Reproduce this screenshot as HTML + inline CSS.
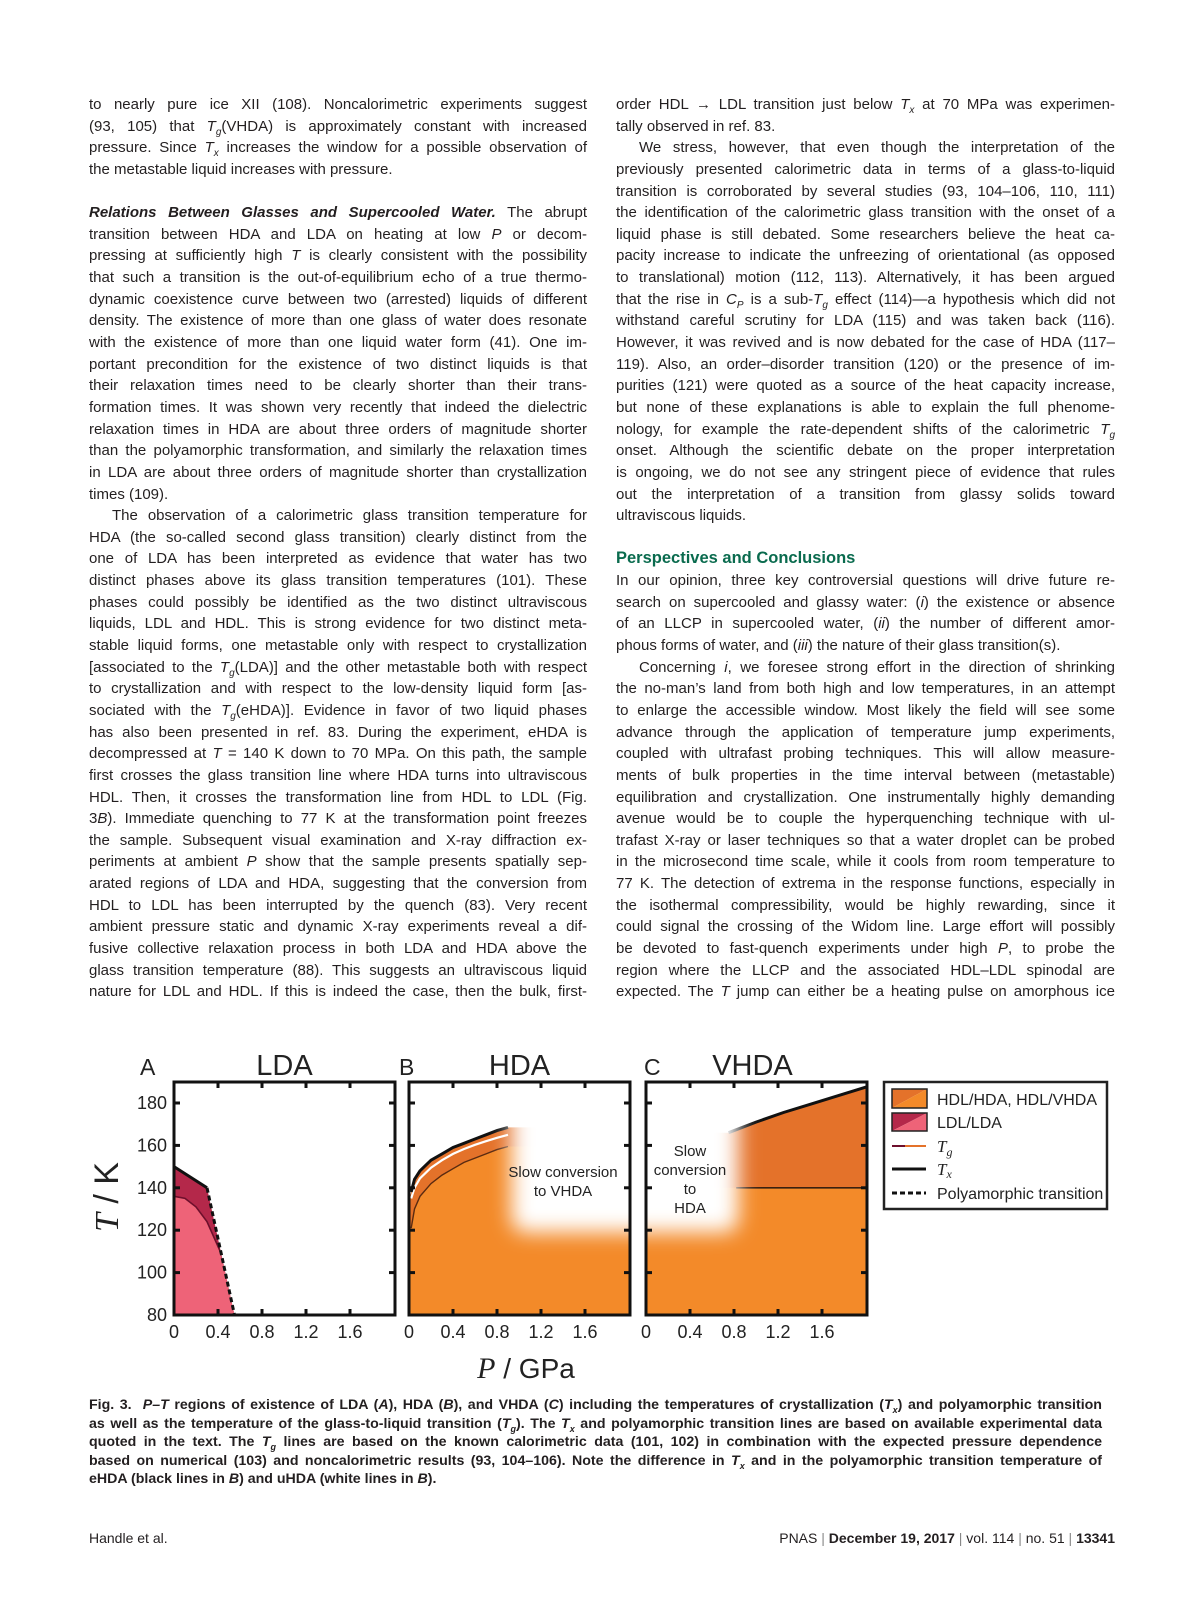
<!DOCTYPE html>
<html><head><meta charset="utf-8">
<style>
html,body{margin:0;padding:0;background:#fff;}
body{width:1200px;height:1606px;position:relative;overflow:hidden;font-family:"Liberation Sans",sans-serif;color:#231f20;}
.col{position:absolute;top:94px;font-size:15px;line-height:21.65px;}
.col div{height:21.65px;white-space:nowrap;text-align:justify;text-align-last:justify;}
.col div.l{text-align-last:left;}
.col div.in{padding-left:23px;}
.col div.b{height:21.65px;}
#left{left:89px;width:498px;}
#right{left:616px;width:499px;}
.green{color:#0a6b4e;font-weight:bold;font-size:16.5px;}
.cap{position:absolute;left:89px;width:1013px;font-family:"Liberation Sans Narrow","Liberation Sans",sans-serif;font-weight:bold;font-size:14.2px;line-height:18.6px;}
.cap div{white-space:nowrap;text-align:justify;text-align-last:justify;height:18.6px;}
.foot{position:absolute;top:1530px;font-family:"Liberation Sans Narrow","Liberation Sans",sans-serif;font-size:14px;}
</style></head>
<body>
<div id="left" class="col">
<div>to nearly pure ice XII (108). Noncalorimetric experiments suggest</div>
<div>(93, 105) that <i>T<sub style="font-size:10px">g</sub></i>(VHDA) is approximately constant with increased</div>
<div>pressure. Since <i>T<sub style="font-size:10px">x</sub></i> increases the window for a possible observation of</div>
<div class="l">the metastable liquid increases with pressure.</div>
<div class="b"></div>
<div><b><i>Relations Between Glasses and Supercooled Water.</i></b> The abrupt</div>
<div>transition between HDA and LDA on heating at low <i>P</i> or decom-</div>
<div>pressing at sufficiently high <i>T</i> is clearly consistent with the possibility</div>
<div>that such a transition is the out-of-equilibrium echo of a true thermo-</div>
<div>dynamic coexistence curve between two (arrested) liquids of different</div>
<div>density. The existence of more than one glass of water does resonate</div>
<div>with the existence of more than one liquid water form (41). One im-</div>
<div>portant precondition for the existence of two distinct liquids is that</div>
<div>their relaxation times need to be clearly shorter than their trans-</div>
<div>formation times. It was shown very recently that indeed the dielectric</div>
<div>relaxation times in HDA are about three orders of magnitude shorter</div>
<div>than the polyamorphic transformation, and similarly the relaxation times</div>
<div>in LDA are about three orders of magnitude shorter than crystallization</div>
<div class="l">times (109).</div>
<div class="in">The observation of a calorimetric glass transition temperature for</div>
<div>HDA (the so-called second glass transition) clearly distinct from the</div>
<div>one of LDA has been interpreted as evidence that water has two</div>
<div>distinct phases above its glass transition temperatures (101). These</div>
<div>phases could possibly be identified as the two distinct ultraviscous</div>
<div>liquids, LDL and HDL. This is strong evidence for two distinct meta-</div>
<div>stable liquid forms, one metastable only with respect to crystallization</div>
<div>[associated to the <i>T<sub style="font-size:10px">g</sub></i>(LDA)] and the other metastable both with respect</div>
<div>to crystallization and with respect to the low-density liquid form [as-</div>
<div>sociated with the <i>T<sub style="font-size:10px">g</sub></i>(eHDA)]. Evidence in favor of two liquid phases</div>
<div>has also been presented in ref. 83. During the experiment, eHDA is</div>
<div>decompressed at <i>T</i> = 140 K down to 70 MPa. On this path, the sample</div>
<div>first crosses the glass transition line where HDA turns into ultraviscous</div>
<div>HDL. Then, it crosses the transformation line from HDL to LDL (Fig.</div>
<div>3<i>B</i>). Immediate quenching to 77 K at the transformation point freezes</div>
<div>the sample. Subsequent visual examination and X-ray diffraction ex-</div>
<div>periments at ambient <i>P</i> show that the sample presents spatially sep-</div>
<div>arated regions of LDA and HDA, suggesting that the conversion from</div>
<div>HDL to LDL has been interrupted by the quench (83). Very recent</div>
<div>ambient pressure static and dynamic X-ray experiments reveal a dif-</div>
<div>fusive collective relaxation process in both LDA and HDA above the</div>
<div>glass transition temperature (88). This suggests an ultraviscous liquid</div>
<div>nature for LDL and HDL. If this is indeed the case, then the bulk, first-</div>
</div>

<div id="right" class="col">
<div>order HDL → LDL transition just below <i>T<sub style="font-size:10px">x</sub></i> at 70 MPa was experimen-</div>
<div class="l">tally observed in ref. 83.</div>
<div class="in">We stress, however, that even though the interpretation of the</div>
<div>previously presented calorimetric data in terms of a glass-to-liquid</div>
<div>transition is corroborated by several studies (93, 104–106, 110, 111)</div>
<div>the identification of the calorimetric glass transition with the onset of a</div>
<div>liquid phase is still debated. Some researchers believe the heat ca-</div>
<div>pacity increase to indicate the unfreezing of orientational (as opposed</div>
<div>to translational) motion (112, 113). Alternatively, it has been argued</div>
<div>that the rise in <i>C<sub style="font-size:10px">P</sub></i> is a sub-<i>T<sub style="font-size:10px">g</sub></i> effect (114)—a hypothesis which did not</div>
<div>withstand careful scrutiny for LDA (115) and was taken back (116).</div>
<div>However, it was revived and is now debated for the case of HDA (117–</div>
<div>119). Also, an order–disorder transition (120) or the presence of im-</div>
<div>purities (121) were quoted as a source of the heat capacity increase,</div>
<div>but none of these explanations is able to explain the full phenome-</div>
<div>nology, for example the rate-dependent shifts of the calorimetric <i>T<sub style="font-size:10px">g</sub></i></div>
<div>onset. Although the scientific debate on the proper interpretation</div>
<div>is ongoing, we do not see any stringent piece of evidence that rules</div>
<div>out the interpretation of a transition from glassy solids toward</div>
<div class="l">ultraviscous liquids.</div>
<div class="b"></div>
<div class="l green">Perspectives and Conclusions</div>
<div>In our opinion, three key controversial questions will drive future re-</div>
<div>search on supercooled and glassy water: (<i>i</i>) the existence or absence</div>
<div>of an LLCP in supercooled water, (<i>ii</i>) the number of different amor-</div>
<div class="l">phous forms of water, and (<i>iii</i>) the nature of their glass transition(s).</div>
<div class="in">Concerning <i>i</i>, we foresee strong effort in the direction of shrinking</div>
<div>the no-man’s land from both high and low temperatures, in an attempt</div>
<div>to enlarge the accessible window. Most likely the field will see some</div>
<div>advance through the application of temperature jump experiments,</div>
<div>coupled with ultrafast probing techniques. This will allow measure-</div>
<div>ments of bulk properties in the time interval between (metastable)</div>
<div>equilibration and crystallization. One instrumentally highly demanding</div>
<div>avenue would be to couple the hyperquenching technique with ul-</div>
<div>trafast X-ray or laser techniques so that a water droplet can be probed</div>
<div>in the microsecond time scale, while it cools from room temperature to</div>
<div>77 K. The detection of extrema in the response functions, especially in</div>
<div>the isothermal compressibility, would be highly rewarding, since it</div>
<div>could signal the crossing of the Widom line. Large effort will possibly</div>
<div>be devoted to fast-quench experiments under high <i>P</i>, to probe the</div>
<div>region where the LLCP and the associated HDL–LDL spinodal are</div>
<div>expected. The <i>T</i> jump can either be a heating pulse on amorphous ice</div>
</div>

<svg id="fig" width="1200" height="1606" style="position:absolute;left:0;top:0" xmlns="http://www.w3.org/2000/svg">
<defs>
<filter id="blur" x="-50%" y="-50%" width="200%" height="200%"><feGaussianBlur stdDeviation="10"/></filter>
</defs>
</svg>

<div class="cap" style="top:1396px">
<div>Fig. 3.&nbsp; <i>P–T</i> regions of existence of LDA (<i>A</i>), HDA (<i>B</i>), and VHDA (<i>C</i>) including the temperatures of crystallization (<i>T<sub style="font-size:9px">x</sub></i>) and polyamorphic transition</div>
<div>as well as the temperature of the glass-to-liquid transition (<i>T<sub style="font-size:9px">g</sub></i>). The <i>T<sub style="font-size:9px">x</sub></i> and polyamorphic transition lines are based on available experimental data</div>
<div>quoted in the text. The <i>T<sub style="font-size:9px">g</sub></i> lines are based on the known calorimetric data (101, 102) in combination with the expected pressure dependence</div>
<div>based on numerical (103) and noncalorimetric results (93, 104–106). Note the difference in <i>T<sub style="font-size:9px">x</sub></i> and in the polyamorphic transition temperature of</div>
<div style="text-align-last:left">eHDA (black lines in <i>B</i>) and uHDA (white lines in <i>B</i>).</div>
</div>
<div class="foot" style="left:89px">Handle et al.</div>
<div class="foot" style="right:85px">PNAS <span style="color:#888">|</span> <b>December 19, 2017</b> <span style="color:#888">|</span> vol. 114 <span style="color:#888">|</span> no. 51 <span style="color:#888">|</span> <b>13341</b></div>

<script>
const xTicks=[0,0.4,0.8,1.2,1.6];
const yTicks=[80,100,120,140,160,180];
const panelTitles=["LDA","HDA","VHDA"];
const panelLetters=["A","B","C"];
// Panel A (LDA)
const ldaTxP=[0,0.3];
const ldaTxT=[150,140];
const ldaPolyP=[0.3,0.55];
const ldaPolyT=[140,80];
const ldaTgP=[0,0.1,0.2,0.3,0.42];
const ldaTgT=[136,135,131,124,110];
// Panel B (HDA)
const hdaP=[0.02,0.05,0.1,0.2,0.3,0.4,0.5,0.6,0.7,0.8,0.9];
const hdaTxT=[138,144,148,153,156,159,161,163,165,167,168.5];
const hdaTgT=[121,130,136,142,146,149,152,154,156,158,159.5];
const uhdaTxT=[135,140,144.5,149.5,153,156,158.3,160.3,162,163.6,165];
// Panel C (VHDA)
const vhdaTxP=[0.75,1.0,1.25,1.5,1.75,2.0];
const vhdaTxT=[166,171,175.5,179.5,183.5,187.5];
const vhdaTgP=[0.82,2.0];
const vhdaTgT=[140,140];

const NS="http://www.w3.org/2000/svg";
const svg=document.getElementById('fig');
const boxX=[174,409,646], boxW=221, yTop=1082, yBot=1315;
function mk(tag,attrs,parent){const e=document.createElementNS(NS,tag);for(const k in attrs)e.setAttribute(k,attrs[k]);(parent||svg).appendChild(e);return e;}
function sx(i,p){return boxX[i]+p*110;}
function sy(t){return yBot-(t-80)*2.12;}
function pts(i,P,T){return P.map((p,j)=>sx(i,p).toFixed(1)+','+sy(T[j]).toFixed(1));}
function txt(x,y,s,attrs,name){const e=mk('text',Object.assign({x:x,y:y},attrs));e.textContent=s;


return e;}
const LO='#f38a29', DO='#e4722a', PK='#ee6378', DPK='#b4284a';

for(let i=0;i<3;i++){
  const cp=mk('clipPath',{id:'clip'+i},svg.querySelector('defs'));
  mk('rect',{x:boxX[i],y:yTop,width:boxW,height:yBot-yTop},cp);
}
// Panel A
const gA=mk('g',{'clip-path':'url(#clip0)'});


const dark=mk('polygon',{points:[sx(0,0)+','+sy(80)].concat(pts(0,ldaTxP,ldaTxT),pts(0,ldaPolyP,ldaPolyT)).join(' '),fill:DPK},gA);


const lightA=mk('polygon',{points:[sx(0,0)+','+sy(80)].concat(pts(0,ldaTgP,ldaTgT),[sx(0,ldaPolyP[1])+','+sy(ldaPolyT[1])]).join(' '),fill:PK},gA);


const tgA=mk('polyline',{points:pts(0,ldaTgP,ldaTgT).join(' '),fill:'none',stroke:'#6e0f2c','stroke-width':1.6},gA);


const txA=mk('polyline',{points:pts(0,ldaTxP,ldaTxT).join(' '),fill:'none',stroke:'#111','stroke-width':3},gA);


const polyA=mk('polyline',{points:pts(0,ldaPolyP,ldaPolyT).join(' '),fill:'none',stroke:'#111','stroke-width':3,'stroke-dasharray':'5,3'},gA);



// Panel B
const gB=mk('g',{'clip-path':'url(#clip1)'});


const last=hdaP.length-1;
const bDark=mk('polygon',{points:[sx(1,0)+','+sy(80),sx(1,0)+','+sy(hdaTxT[0]-4)].concat(pts(1,hdaP,hdaTxT),[sx(1,2.1)+','+sy(hdaTxT[last]),sx(1,2.1)+','+sy(80)]).join(' '),fill:DO},gB);


const bLight=mk('polygon',{points:[sx(1,0)+','+sy(80),sx(1,0)+','+sy(hdaTgT[0]-2)].concat(pts(1,hdaP,hdaTgT),[sx(1,2.1)+','+sy(hdaTgT[last]),sx(1,2.1)+','+sy(80)]).join(' '),fill:LO},gB);


const tgB=mk('polyline',{points:pts(1,hdaP,hdaTgT).join(' '),fill:'none',stroke:'#5a2a10','stroke-width':1.4},gB);


const uB=mk('polyline',{points:pts(1,hdaP,uhdaTxT).join(' '),fill:'none',stroke:'#fff','stroke-width':2.2},gB);


const txB=mk('polyline',{points:pts(1,hdaP,hdaTxT).join(' '),fill:'none',stroke:'#111','stroke-width':3},gB);


const fadeB=mk('rect',{x:sx(1,0.93),y:sy(205),width:200,height:sy(119)-sy(205),rx:14,fill:'#fff',filter:'url(#blur)'},gB);


txt(563,1177,'Slow conversion',{'font-size':15,'text-anchor':'middle',fill:'#222'},'slow-conversion-label');
txt(563,1196,'to VHDA',{'font-size':15,'text-anchor':'middle',fill:'#222'},'slow-conversion-label-2');

// Panel C
const gC=mk('g',{'clip-path':'url(#clip2)'});


const cDark=mk('polygon',{points:[sx(2,-0.1)+','+sy(80),sx(2,-0.1)+','+sy(vhdaTxT[0])].concat(pts(2,vhdaTxP,vhdaTxT),[sx(2,2.1)+','+sy(80)]).join(' '),fill:DO},gC);


const cLight=mk('rect',{x:sx(2,-0.1),y:sy(vhdaTgT[0]),width:250,height:sy(80)-sy(vhdaTgT[0]),fill:LO},gC);


const tgC=mk('polyline',{points:pts(2,vhdaTgP,vhdaTgT).join(' '),fill:'none',stroke:'#3a2010','stroke-width':1.6},gC);


const txC=mk('polyline',{points:pts(2,vhdaTxP,vhdaTxT).join(' '),fill:'none',stroke:'#111','stroke-width':3},gC);


const fadeC=mk('rect',{x:sx(2,-0.3),y:sy(210),width:(0.3+0.84)*110,height:sy(119)-sy(210),rx:14,fill:'#fff',filter:'url(#blur)'},gC);


['Slow','conversion','to','HDA'].forEach((s,k)=>txt(690,1156+k*19,s,{'font-size':15,'text-anchor':'middle',fill:'#222'},'slow-conversion-hda-label'));

// Frames, ticks, labels
for(let i=0;i<3;i++){
  const fr=mk('rect',{x:boxX[i],y:yTop,width:boxW,height:yBot-yTop,fill:'none',stroke:'#111','stroke-width':3});
  
  
  xTicks.forEach(p=>{const x=sx(i,p);
    if(p>0){mk('line',{x1:x,x2:x,y1:yTop,y2:yTop+6,stroke:'#111','stroke-width':3});mk('line',{x1:x,x2:x,y1:yBot,y2:yBot-6,stroke:'#111','stroke-width':3});}
    txt(x,1338,String(p),{'font-size':18,'text-anchor':'middle',fill:'#222'},'x-tick-label');});
  yTicks.forEach(t=>{const y=sy(t);
    if(t>80){mk('line',{x1:boxX[i],x2:boxX[i]+6,y1:y,y2:y,stroke:'#111','stroke-width':3});mk('line',{x1:boxX[i]+boxW,x2:boxX[i]+boxW-6,y1:y,y2:y,stroke:'#111','stroke-width':3});}
    if(i===0)txt(167,y+6,String(t),{'font-size':18,'text-anchor':'end',fill:'#222'},'y-tick-label');});
  txt(boxX[i]+boxW/2+(i===2?-4:0),1075,panelTitles[i],{'font-size':29,'text-anchor':'middle',fill:'#222'},'panel-title');
  txt(boxX[i]-[34,10,0][i]+ (i===2?-2:0),1075,panelLetters[i],{'font-size':23,fill:'#222'},'panel-letter');
}
const yt=txt(0,0,'',{'font-size':34,fill:'#222',transform:'translate(118,1197) rotate(-90)','text-anchor':'middle'},'y-axis-title');
yt.innerHTML='<tspan font-family="Liberation Serif" font-style="italic">T</tspan> / K';
const xt=txt(526,1378,'',{'font-size':28,fill:'#222','text-anchor':'middle'},'x-axis-title');
xt.innerHTML='<tspan font-family="Liberation Serif" font-style="italic" font-size="30">P</tspan> / GPa';

// Legend
const lg=mk('g',{});


mk('rect',{x:884,y:1082,width:223,height:127,fill:'#fff',stroke:'#222','stroke-width':2.5},lg);
mk('polygon',{points:'892,1089 927,1089 892,1108',fill:DO,stroke:'none'},lg);
mk('polygon',{points:'927,1089 927,1108 892,1108',fill:LO},lg);
mk('rect',{x:892,y:1089,width:35,height:19,fill:'none',stroke:'#222','stroke-width':1.5},lg);
mk('polygon',{points:'892,1113 927,1113 892,1131',fill:DPK},lg);
mk('polygon',{points:'927,1113 927,1131 892,1131',fill:PK},lg);
mk('rect',{x:892,y:1113,width:35,height:18,fill:'none',stroke:'#222','stroke-width':1.5},lg);
mk('line',{x1:892,x2:905,y1:1146,y2:1146,stroke:'#6e0f2c','stroke-width':2},lg);
mk('line',{x1:905,x2:926,y1:1146,y2:1146,stroke:'#e4722a','stroke-width':2},lg);
mk('line',{x1:892,x2:926,y1:1169,y2:1169,stroke:'#111','stroke-width':3},lg);
mk('line',{x1:892,x2:926,y1:1193,y2:1193,stroke:'#111','stroke-width':3,'stroke-dasharray':'5,3'},lg);
const lgl=[['HDL/HDA, HDL/VHDA',1105],['LDL/LDA',1128]];
lgl.forEach(a=>txt(937,a[1],a[0],{'font-size':16,fill:'#222'},'legend-entry'));
const l3=txt(937,1152,'',{'font-size':17,fill:'#222'},'legend-entry-tg');
l3.innerHTML='<tspan font-family="Liberation Serif" font-style="italic">T</tspan><tspan font-family="Liberation Serif" font-style="italic" font-size="12" dy="4">g</tspan>';
const l4=txt(937,1175,'',{'font-size':17,fill:'#222'},'legend-entry-tx');
l4.innerHTML='<tspan font-family="Liberation Serif" font-style="italic">T</tspan><tspan font-family="Liberation Serif" font-style="italic" font-size="12" dy="3">x</tspan>';
txt(937,1199,'Polyamorphic transition',{'font-size':16,fill:'#222'},'legend-entry');
</script>
</body></html>
